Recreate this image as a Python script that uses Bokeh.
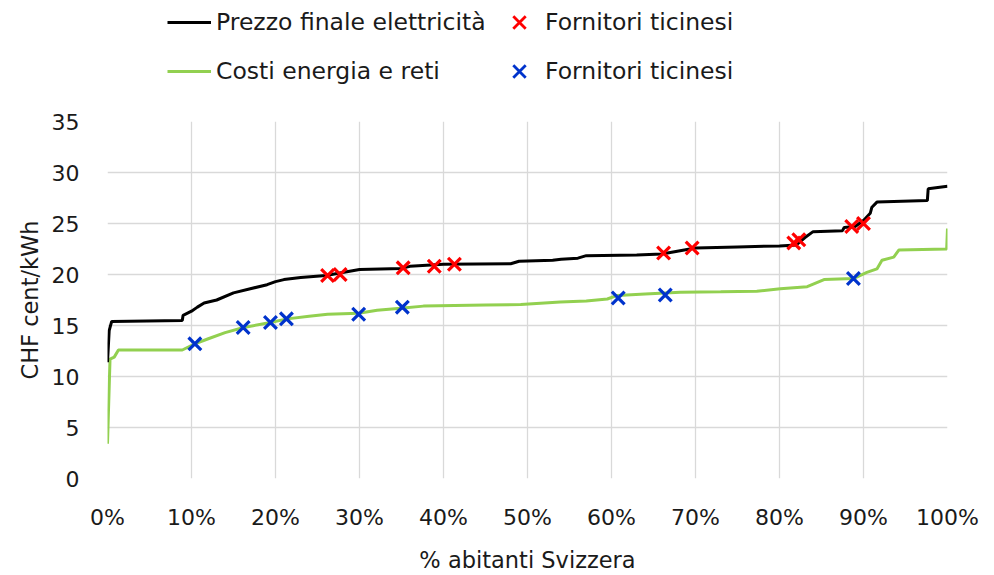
from bokeh.plotting import figure
from bokeh.layouts import column
from bokeh.models import Range1d, FixedTicker, Legend, LegendItem
from bokeh.embed import file_html
from bokeh.resources import INLINE

# --- data (x in % of Swiss inhabitants, y in CHF cent/kWh) ---
black_x = [0, 0.2, 0.5, 8.9, 9.0, 10, 10.7, 11.5, 13, 15, 17, 19, 20, 21, 23, 26, 28, 30, 35, 36,
           38, 40, 48, 49, 53, 54, 56, 57, 63, 66, 68, 70, 75, 80, 82, 83, 84, 87.5, 87.7, 89,
           90, 90.8, 91, 91.6, 97.6, 97.7, 100]
black_y = [11.4, 14.5, 15.4, 15.5, 16.0, 16.4, 16.8, 17.2, 17.5, 18.2, 18.6, 19.0, 19.3, 19.5, 19.7, 19.9, 20.2, 20.5, 20.6, 20.8,
           20.9, 21.0, 21.05, 21.3, 21.4, 21.5, 21.6, 21.85, 21.9, 22.0, 22.3, 22.6, 22.7, 22.8, 22.9, 23.6, 24.2, 24.3, 24.6, 24.7,
           25.3, 26.0, 26.6, 27.1, 27.25, 28.4, 28.65]

green_x = [0, 0.3, 0.8, 1.3, 8.9, 10.4, 12, 14, 16.2, 19.4, 21.4, 24, 26.2, 29.9, 32.1, 34.9, 37.6, 45, 49.2, 53.9,
           57, 59.5, 60.7, 64, 68.2, 73, 77.3, 80.1, 83.3, 85.3, 88.8, 90.4, 91.6, 92.2, 93.6, 94.2, 99.9, 100]
green_y = [3.4, 11.7, 11.9, 12.6, 12.6, 13.2, 13.7, 14.3, 14.8, 15.3, 15.65, 15.9, 16.1, 16.2, 16.5, 16.7, 16.9, 17.0, 17.05, 17.3,
           17.4, 17.6, 17.95, 18.1, 18.25, 18.3, 18.35, 18.6, 18.8, 19.5, 19.6, 20.2, 20.55, 21.4, 21.7, 22.4, 22.5, 24.5]

red_x = [26.2, 27.7, 35.2, 38.9, 41.3, 66.2, 69.6, 81.7, 82.3, 88.6, 90.0]
red_y = [19.9, 20.0, 20.65, 20.8, 21.0, 22.1, 22.6, 23.1, 23.4, 24.7, 25.0]

blue_x = [10.4, 16.15, 19.4, 21.3, 29.9, 35.1, 60.8, 66.4, 88.8]
blue_y = [13.2, 14.8, 15.3, 15.65, 16.1, 16.8, 17.7, 18.0, 19.6]

x_ticks = [0, 10, 20, 30, 40, 50, 60, 70, 80, 90, 100]
x_tick_labels = ["0%", "10%", "20%", "30%", "40%", "50%", "60%", "70%", "80%", "90%", "100%"]
y_ticks = [0, 5, 10, 15, 20, 25, 30, 35]

label_black = "Prezzo finale elettricità"
label_green = "Costi energia e reti"
label_red = "Fornitori ticinesi"
label_blue = "Fornitori ticinesi"
x_title = "% abitanti Svizzera"
y_title = "CHF cent/kWh"

FONT = "DejaVu Sans"
TXT = "#1a1a1a"
C_BLACK, C_GREEN, C_RED, C_BLUE = "black", "#92d050", "#ff0000", "#0033cc"
LINE_W, MK_SIZE, MK_W = 3, 18, 3.2

# ---------------- main chart ----------------
p = figure(width=994, height=470, output_backend="svg", toolbar_location=None,
           x_range=Range1d(0, 100), y_range=Range1d(0, 35),
           min_border_left=107, min_border_right=47, min_border_top=16, min_border_bottom=97)
p.outline_line_color = None
p.background_fill_color = "white"
p.border_fill_color = "white"

for ax in (p.xaxis[0], p.yaxis[0]):
    ax.axis_line_color = None
    ax.major_tick_line_color = None
    ax.minor_tick_line_color = None
    ax.major_label_text_font = FONT
    ax.major_label_text_font_size = "22px"
    ax.major_label_text_color = TXT
    ax.axis_label_text_font = FONT
    ax.axis_label_text_font_size = "22.5px"
    ax.axis_label_text_font_style = "normal"
    ax.axis_label_text_color = TXT

p.xaxis.ticker = FixedTicker(ticks=x_ticks)
p.xaxis.major_label_overrides = {t: l for t, l in zip(x_ticks, x_tick_labels)}
p.yaxis.ticker = FixedTicker(ticks=y_ticks)
p.xaxis.major_label_standoff = 20
p.yaxis.major_label_standoff = 22
p.xaxis.axis_label = x_title
p.yaxis.axis_label = y_title
p.xaxis.axis_label_standoff = 14
p.yaxis.axis_label_standoff = 6

p.xgrid.ticker = FixedTicker(ticks=x_ticks)
p.ygrid.ticker = FixedTicker(ticks=y_ticks)
for g in (p.xgrid[0], p.ygrid[0]):
    g.grid_line_color = "#d9d9d9"
    g.grid_line_width = 1.3

p.line(green_x, green_y, line_color=C_GREEN, line_width=LINE_W)
p.line(black_x, black_y, line_color=C_BLACK, line_width=LINE_W)
p.scatter(red_x, red_y, marker="x", size=MK_SIZE, line_width=MK_W, color=C_RED)
p.scatter(blue_x, blue_y, marker="x", size=MK_SIZE, line_width=MK_W, color=C_BLUE)

# ---------------- legend strip above the chart ----------------
# same series drawn again, but the strip's ranges keep them out of view: only the legend shows
lg = figure(width=994, height=105, output_backend="svg", toolbar_location=None,
            x_range=Range1d(0, 100), y_range=Range1d(-20, -10),
            min_border_left=0, min_border_right=0, min_border_top=0, min_border_bottom=0)
lg.axis.visible = False
lg.grid.visible = False
lg.outline_line_color = None
lg.background_fill_color = "white"
lg.border_fill_color = "white"

k_black = lg.line(black_x, black_y, line_color=C_BLACK, line_width=LINE_W)
k_green = lg.line(green_x, green_y, line_color=C_GREEN, line_width=LINE_W)
k_red = lg.scatter(red_x, red_y, marker="x", size=MK_SIZE, line_width=2.8, color=C_RED)
k_blue = lg.scatter(blue_x, blue_y, marker="x", size=MK_SIZE, line_width=2.8, color=C_BLUE)

common = dict(border_line_color=None, background_fill_alpha=0, padding=0, margin=0,
              label_text_font=FONT, label_text_font_size="23.5px", label_text_color=TXT)

leg1 = Legend(items=[LegendItem(label=label_black, renderers=[k_black]),
                     LegendItem(label=label_green, renderers=[k_green])],
              location=(60, 20), glyph_width=44, glyph_height=24, label_height=24,
              spacing=21, label_standoff=5, **common)
leg2 = Legend(items=[LegendItem(label=label_red, renderers=[k_red]),
                     LegendItem(label=label_blue, renderers=[k_blue])],
              location=(390, 12), glyph_width=44, glyph_height=44, label_height=44,
              spacing=5, label_standoff=4, **common)
lg.add_layout(leg1)
lg.add_layout(leg2)

layout = column(lg, p, spacing=0)
open("out.html", "w").write(file_html(layout, INLINE))
